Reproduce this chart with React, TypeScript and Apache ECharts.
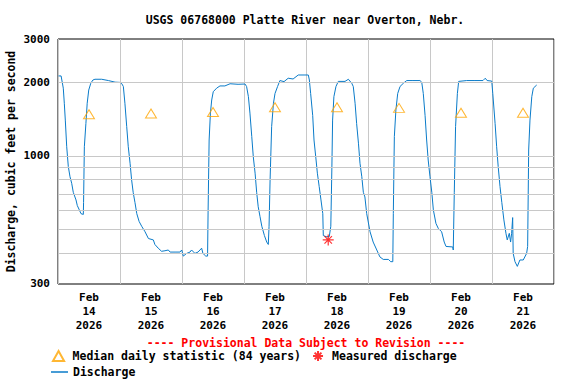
import React, { useEffect, useRef } from 'react';
import * as echarts from 'echarts';

const FONT = '"DejaVu Sans Mono", "Liberation Mono", monospace';

const titleText = 'USGS 06768000 Platte River near Overton, Nebr.';
const provisionalText = '---- Provisional Data Subject to Revision ----';
const yAxisName = 'Discharge, cubic feet per second';

// hours since Feb 14 2026 00:00
const dischargeHours = [
  0.2, 1.2, 2.05, 2.44, 2.83, 3.37, 3.99, 4.65, 5.3, 5.92, 6.97, 7.47, 8.25, 8.9, 9.8, 9.9, 10.2, 10.8, 11.3, 11.9, 12.7, 13.5, 14.3, 16.9, 19.5, 22.1, 24.1, 24.7,
  25.3, 25.9, 26.6, 27.2, 27.9, 28.5, 29.1, 29.8, 30.5, 31.4, 32.4, 33.7, 35.0, 36.9, 37.5, 38.8, 40.1, 41.4, 42.7, 43.4, 45.3, 47.2, 47.9, 48.5, 49.8, 51.1, 51.7, 53.0, 54.2, 55.6, 56.1, 57.2, 57.9,
  58.1, 58.5, 59.0, 59.5, 60.1, 61.4, 62.7, 64.6, 66.6, 69.7, 72.4, 73.0, 73.7, 74.3, 75.0, 75.6, 76.3, 76.9, 77.5, 78.2, 78.9, 79.9, 80.8, 81.4,
  81.7, 82.1, 82.7, 83.4, 84.0, 85.0, 85.9, 87.5, 89.1, 91.0, 93.0, 95.6, 96.9,
  97.3, 97.8, 98.6, 99.1, 99.9, 100.4, 101.1, 101.8, 102.5, 102.7, 103.8, 105.0, 105.6, 106.0, 106.3, 106.8, 107.6, 108.5, 111.1, 112.4, 113.7, 114.3,
  115.0, 115.6, 116.3, 116.9, 117.6, 118.2, 118.8, 119.5, 120.8, 122.0, 123.4, 124.6, 125.9, 127.9, 128.8, 129.6,
  129.8, 130.2, 130.8, 131.5, 132.4, 133.7, 135.0, 137.4, 140.1, 140.8,
  141.4, 142.1, 142.7, 143.3, 144.0, 144.7, 145.3, 146.3, 147.2, 148.5, 149.5, 150.2, 152.8, 153.0,
  153.4, 153.9, 154.6, 155.1, 158.2, 161.4, 164.5, 165.4, 166.1, 167.9,
  168.3, 169.2, 169.8, 170.4, 171.1, 171.8, 172.6, 173.4, 173.9, 174.7, 175.2, 175.6, 176.0, 176.2, 176.9, 177.8, 178.8, 180.1, 181.4, 181.8,
  182.2, 182.7, 183.4, 184.0, 185.3,
];
const dischargeValues = [
  2120, 2120, 1890, 1640, 1400, 1090, 905, 822, 773, 710, 661, 627, 602, 581, 577, 645, 1090, 1355, 1640, 1857, 1980, 2040, 2055, 2055, 2030, 2000, 1995, 1970,
  1920, 1640, 1317, 1090, 933, 797, 710, 645, 581, 540, 516, 490, 460, 454, 435, 420, 408, 410, 413, 405, 405, 405, 413, 390, 400, 405, 413, 400, 405, 420, 400, 390, 390,
  590, 1161, 1495, 1691, 1828, 1890, 1930, 1930, 1970, 1960, 1965, 1920, 1745, 1495, 1200, 990, 850, 710, 620, 565, 516, 473, 445, 435,
  516, 797, 1317, 1640, 1798, 1920, 2030, 2010, 2075, 2060, 2139, 2139, 2139,
  2041, 1798, 1460, 1161, 962, 850, 750, 661, 581, 473, 468, 468, 516, 876, 1400, 1745, 1920, 2014, 2014, 2055, 1980, 1920,
  1640, 1355, 1127, 933, 822, 710, 680, 581, 490, 445, 413, 387, 378, 378, 370, 370,
  581, 1200, 1539, 1798, 1920, 1980, 2030, 2030, 2030, 2000,
  1798, 1460, 1161, 962, 822, 710, 602, 530, 506, 490, 445, 427, 425, 413,
  710, 1317, 1798, 2014, 2030, 2030, 2030, 2075, 2030, 2020,
  1798, 1355, 1090, 905, 750, 645, 548, 483, 454, 483, 445, 483, 560, 400, 370, 354, 376, 376, 400, 427,
  1057, 1400, 1745, 1890, 1947,
];

// median daily statistic at noon of each day (hours since Feb 14 00:00)
const medianHours = [12, 36, 60, 84, 108, 132, 156, 180];
const medianValues = [1480, 1490, 1510, 1580, 1580, 1570, 1500, 1500];

const measuredHours = [104.6];
const measuredValues = [454];

const gridLineValues = [400, 500, 600, 700, 800, 900, 1000, 2000];
const yTickValues = [300, 1000, 2000, 3000];
const yTickLabels = ['300', '1000', '2000', '3000'];
const Y_MIN = 300;
const Y_MAX = 3000;
const xLabelHours = [12, 36, 60, 84, 108, 132, 156, 180];
const xTickLabels = [
  'Feb\n14\n2026', 'Feb\n15\n2026', 'Feb\n16\n2026', 'Feb\n17\n2026',
  'Feb\n18\n2026', 'Feb\n19\n2026', 'Feb\n20\n2026', 'Feb\n21\n2026',
];

const NAME_MEDIAN = 'Median daily statistic (84 years)';
const NAME_MEASURED = 'Measured discharge';
const NAME_DISCHARGE = 'Discharge';

const ASTERISK = 'path://M5 0L5 10M0 5L10 5M1.6 1.6L8.4 8.4M1.6 8.4L8.4 1.6';
const TRIANGLE = 'path://M5 0L10 9L0 9Z';

function buildOption() {
  const dischargeData = dischargeHours.map((h, i) => [h, dischargeValues[i]]);
  const medianData = medianHours.map((h, i) => [h, medianValues[i]]);
  const measuredData = measuredHours.map((h, i) => [h, measuredValues[i]]);

  const allY = Array.from(new Set([...gridLineValues, ...yTickValues])).sort((a, b) => a - b);
  const markData = allY.map((v) => {
    const isGrid = gridLineValues.includes(v);
    const li = yTickValues.indexOf(v);
    // keep the edge labels a hair inside the axis extent so they are not filtered out
    const pos = Math.min(Math.max(v, Y_MIN * 1.0001), Y_MAX * 0.9999);
    return {
      yAxis: pos,
      lineStyle: { color: isGrid ? '#c8c8c8' : 'rgba(0,0,0,0)', width: 1, type: 'solid' },
      label: {
        show: li >= 0,
        position: 'start',
        distance: 8,
        formatter: li >= 0 ? yTickLabels[li] : '',
        color: '#000',
        fontFamily: FONT,
        fontWeight: 'bold',
        fontSize: 11,
      },
    };
  });

  const legendText = { fontFamily: FONT, fontWeight: 'bold', fontSize: 11.5, color: '#000' };

  return {
    animation: false,
    backgroundColor: '#fff',
    grid: {
      left: 58, right: 22, top: 39, bottom: 100,
      containLabel: false, outerBoundsMode: 'none',
      show: true, borderColor: '#000', borderWidth: 1, backgroundColor: 'transparent',
    },
    graphic: [
      { type: 'text', x: 305, y: 20, style: { text: titleText, textAlign: 'center', textVerticalAlign: 'middle', fontFamily: FONT, fontWeight: 'bold', fontSize: 11.5, fill: '#000' } },
      { type: 'text', x: 306, y: 343, style: { text: provisionalText, textAlign: 'center', textVerticalAlign: 'middle', fontFamily: FONT, fontWeight: 'bold', fontSize: 11.5, fill: '#ff0000' } },
    ],
    legend: [
      {
        data: [{ name: NAME_MEDIAN, icon: TRIANGLE }, { name: NAME_MEASURED, icon: ASTERISK }],
        left: 52, top: 350, itemWidth: 18, itemHeight: 10, itemGap: 11, symbolKeepAspect: true,
        selectedMode: false, textStyle: legendText, padding: 0,
      },
      {
        data: [{ name: NAME_DISCHARGE, icon: 'rect' }],
        left: 51, top: 366, itemWidth: 17, itemHeight: 1.5,
        selectedMode: false, textStyle: legendText, padding: 0,
      },
    ],
    xAxis: {
      type: 'value',
      min: 0,
      max: 192,
      interval: 24,
      axisLine: { show: false },
      axisTick: { show: false },
      splitLine: { show: true, lineStyle: { color: '#c8c8c8', width: 1 } },
      axisLabel: {
        customValues: xLabelHours,
        formatter: (v: number) => xTickLabels[xLabelHours.indexOf(v)] ?? '',
        margin: 6,
        lineHeight: 14,
        fontFamily: FONT,
        fontWeight: 'bold',
        fontSize: 11,
        color: '#000',
        hideOverlap: false,
      },
    },
    yAxis: {
      type: 'log',
      logBase: 10,
      min: Y_MIN,
      max: Y_MAX,
      axisLine: { show: false },
      axisTick: { show: false },
      axisLabel: { show: false },
      splitLine: { show: false },
      name: yAxisName,
      nameLocation: 'middle',
      nameGap: 41,
      nameTextStyle: { fontFamily: FONT, fontWeight: 'bold', fontSize: 11.5, color: '#000' },
    },
    series: [
      {
        name: 'gridref',
        type: 'line',
        data: [],
        z: 1,
        silent: true,
        markLine: { silent: true, symbol: 'none', animation: false, data: markData },
      },
      {
        name: NAME_DISCHARGE,
        type: 'line',
        data: dischargeData,
        showSymbol: false,
        symbol: 'none',
        z: 3,
        silent: true,
        lineStyle: { color: '#0a7bc9', width: 1 },
        itemStyle: { color: '#0a7bc9' },
      },
      {
        name: NAME_MEDIAN,
        type: 'scatter',
        data: medianData,
        symbol: TRIANGLE,
        symbolSize: [11, 9],
        z: 4,
        silent: true,
        itemStyle: { color: 'rgba(0,0,0,0)', borderColor: '#ffa500', borderWidth: 1 },
      },
      {
        name: NAME_MEASURED,
        type: 'scatter',
        data: measuredData,
        symbol: ASTERISK,
        symbolSize: 11,
        z: 5,
        silent: true,
        itemStyle: { color: 'rgba(0,0,0,0)', borderColor: '#ff0000', borderWidth: 1.2 },
      },
    ],
  };
}

export default function App() {
  const ref = useRef<HTMLDivElement>(null);
  useEffect(() => {
    document.body.style.margin = '0';
    const chart = echarts.init(ref.current!, null, { renderer: 'svg' });
    chart.setOption(buildOption() as any);
    return () => chart.dispose();
  }, []);
  return <div ref={ref} style={{ position: 'absolute', left: 0, top: 0, width: 576, height: 384 }} />;
}
